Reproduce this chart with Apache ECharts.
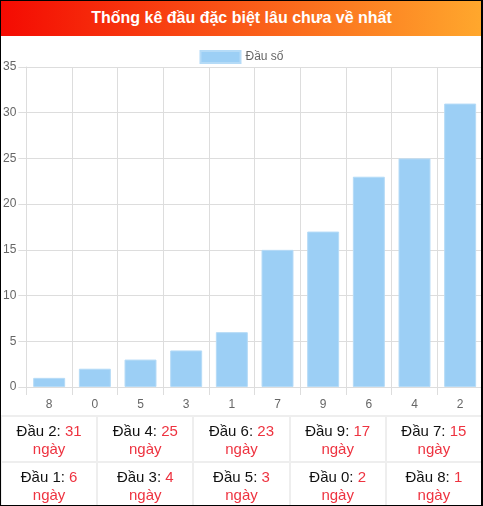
<!DOCTYPE html>
<html>
<head>
<meta charset="utf-8">
<script src="https://cdn.jsdelivr.net/npm/echarts@6/dist/echarts.min.js"></script>
<style>
  html, body { margin: 0; padding: 0; background: #fff; }
  body { font-family: "Liberation Sans", Arial, Helvetica, sans-serif; }
  #wrap { position: relative; width: 483px; height: 506px; overflow: hidden; }
  #head {
    position: absolute; left: 0; top: 0; width: 483px; height: 36px;
    background: linear-gradient(90deg, #f40a02, #ffa82d);
    color: #fff; font-weight: bold; font-size: 16px;
    line-height: 36px; text-align: center;
  }
  #chart { position: absolute; left: 0; top: 36px; width: 483px; height: 380px; }
  #tbl {
    position: absolute; left: 0; top: 415px; width: 483px;
    border-collapse: collapse; table-layout: fixed;
  }
  #tbl td {
    border: 2px solid #eeeeee; height: 42px; padding: 2px 0 0 0;
    text-align: center; font-size: 15px; line-height: 18px; color: #111;
  }
  #tbl .v { color: #ee3340; }
  #frame {
    position: absolute; left: 0; top: 0; width: 483px; height: 506px;
    box-sizing: border-box; border: 1px solid #000; border-right-width: 2px;
    pointer-events: none;
  }
</style>
</head>
<body>
<div id="wrap">
  <div id="head">Thống kê đầu đặc biệt lâu chưa về nhất</div>
  <div id="chart"></div>
  <table id="tbl"></table>
  <div id="frame"></div>
</div>
<script>
// days since each "đầu" last appeared
var heads = ['8', '0', '5', '3', '1', '7', '9', '6', '4', '2'];
var days = [1, 2, 3, 4, 6, 15, 17, 23, 25, 31];
var yTicks = [0, 5, 10, 15, 20, 25, 30, 35];

var gridColor = '#dddddd';

var myChart = echarts.init(document.getElementById('chart'));
var option = {
    animation: false,
    legend: {
        top: 9,
        left: 'center',
        itemWidth: 40,
        itemHeight: 12,
        icon: 'rect',
        textStyle: { color: '#666', fontSize: 12, fontFamily: 'Liberation Sans' },
        data: ['Đầu số']
    },
    grid: { left: 26, right: 0, top: 31, bottom: 29 },
    xAxis: {
        type: 'category',
        data: heads,
        boundaryGap: true,
        axisLine: { show: true, lineStyle: { color: gridColor } },
        axisTick: { show: true, length: 8, lineStyle: { color: gridColor } },
        splitLine: { show: true, lineStyle: { color: gridColor } },
        axisLabel: { color: '#666', fontSize: 12, margin: 12, fontFamily: 'Liberation Sans' }
    },
    yAxis: {
        type: 'value',
        min: yTicks[0],
        max: yTicks[yTicks.length - 1],
        interval: 5,
        axisLine: { show: true, lineStyle: { color: gridColor } },
        axisTick: { show: true, length: 8, lineStyle: { color: gridColor } },
        splitLine: { show: true, lineStyle: { color: gridColor } },
        axisLabel: { color: '#666', fontSize: 12, margin: 10, fontFamily: 'Liberation Sans' }
    },
    series: [{
        name: 'Đầu số',
        type: 'bar',
        barWidth: '70%',
        data: days,
        itemStyle: { color: '#9ccff5', borderColor: '#b5dbf7', borderWidth: 1 }
    }]
};
myChart.setOption(option);

// table below the chart, longest first
var tbl = document.getElementById('tbl');
var order = heads.map(function (h, i) { return i; }).reverse();
for (var r = 0; r < 2; r++) {
    var tr = document.createElement('tr');
    for (var c = 0; c < 5; c++) {
        var i = order[r * 5 + c];
        var td = document.createElement('td');
        td.innerHTML = 'Đầu ' + heads[i] + ': <span class="v">' + days[i] + '</span><br><span class="v">ngày</span>';
        tr.appendChild(td);
    }
    tbl.appendChild(tr);
}
</script>
</body>
</html>
